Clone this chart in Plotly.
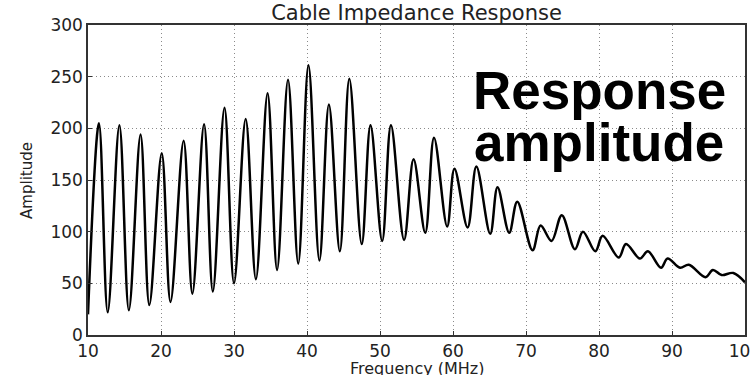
import plotly.graph_objects as go

# Frequency (MHz) of the successive peaks and troughs of the response curve
freq_mhz = [
    10.0, 11.5, 12.7, 14.3, 15.6, 17.2, 18.4, 20.1, 21.3, 23.1, 24.3, 25.9,
    27.1, 28.7, 30.0, 31.6, 33.0, 34.6, 35.9, 37.4, 38.8, 40.2, 41.7, 43.0,
    44.5, 45.8, 47.5, 48.7, 50.3, 51.5, 53.3, 54.6, 56.2, 57.4, 59.2, 60.2,
    62.0, 63.2, 65.1, 66.1, 67.7, 68.8, 70.9, 72.0, 73.5, 74.9, 76.7, 77.8,
    79.5, 80.5, 82.7, 83.7, 85.6, 86.7, 88.5, 89.4, 91.1, 92.3, 94.6, 95.6,
    96.8, 98.4, 100.0,
]

# Amplitude at each of those frequencies
amplitude = [
    20, 205, 22, 203, 24, 194, 29, 176, 32, 188, 40, 204,
    42, 220, 50, 209, 54, 234, 63, 247, 69, 261, 72, 223,
    81, 248, 88, 203, 91, 203, 92, 170, 99, 191, 105, 161,
    104, 163, 98, 143, 99, 129, 82, 106, 91, 116, 83, 100,
    81, 96, 75, 88, 74, 81, 65, 74, 65, 68, 56, 63,
    58, 60, 51,
]

x_ticks = [10, 20, 30, 40, 50, 60, 70, 80, 90, 100]
y_ticks = [0, 50, 100, 150, 200, 250, 300]

fig = go.Figure()
fig.add_trace(go.Scatter(
    x=freq_mhz, y=amplitude, mode="lines",
    line=dict(color="black", width=2.5, shape="spline", smoothing=1.0),
    showlegend=False,
))

axis_common = dict(
    showline=True, mirror=True, linecolor="#333333", linewidth=1.5,
    ticks="inside", ticklen=4, tickcolor="#333333",
    showgrid=True, gridcolor="#8a8a8a", gridwidth=1, griddash="1px,3px",
    zeroline=False, ticklabeloverflow="allow", automargin=False,
    tickfont=dict(family="DejaVu Sans", size=17, color="#222222"),
)

fig.update_layout(
    width=750, height=375,
    margin=dict(l=88, r=5, t=25, b=40),
    paper_bgcolor="white", plot_bgcolor="white",
    title=dict(
        text="Cable Impedance Response",
        font=dict(family="DejaVu Sans", size=21, color="#222222"),
        x=0.5, xanchor="center", y=0.966, yanchor="middle",
        xref="paper", yref="container",
    ),
    xaxis=dict(range=[10, 100], tickvals=x_ticks, **axis_common),
    yaxis=dict(range=[0, 300], tickvals=y_ticks, **axis_common),
)

# Axis titles placed in paper space so the plot frame stays fixed
fig.add_annotation(
    x=0.5, y=-0.072, xref="paper", yref="paper",
    xanchor="center", yanchor="top",
    text="Frequency (MHz)", showarrow=False,
    font=dict(family="DejaVu Sans", size=16, color="#222222"),
)
fig.add_annotation(
    x=-0.093, y=0.5, xref="paper", yref="paper",
    xanchor="center", yanchor="middle", textangle=-90,
    text="Amplitude", showarrow=False,
    font=dict(family="DejaVu Sans", size=15, color="#222222"),
)

# Large overlaid caption, two lines set tightly
for line_text, y_val in (("<b>Response</b>", 237), ("<b>amplitude</b>", 186)):
    fig.add_annotation(
        x=80, y=y_val, xref="x", yref="y", text=line_text, showarrow=False,
        xanchor="center", yanchor="middle",
        font=dict(family="Liberation Sans", size=53, color="black"),
    )

fig.write_html("out.html")
